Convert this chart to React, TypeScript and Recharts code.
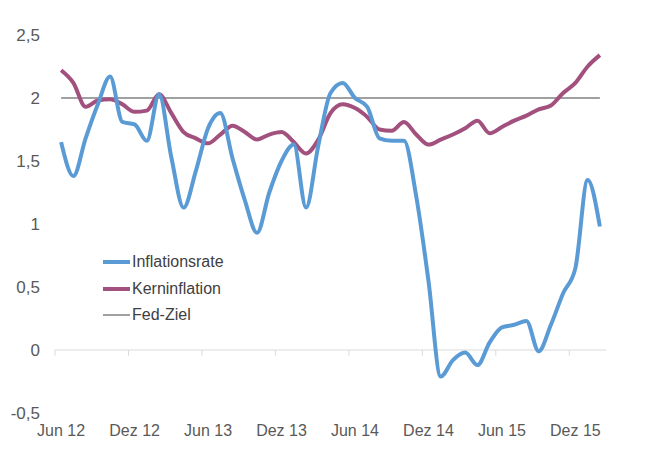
import { Line, LineChart, ReferenceLine, XAxis, YAxis } from 'recharts'

// US-Inflation vs. Kerninflation, monatlich Jun 12 – Feb 16, mit Fed-Ziel (2 %).

const months = [
  'Jun 12', 'Jul 12', 'Aug 12', 'Sep 12', 'Okt 12', 'Nov 12', 'Dez 12',
  'Jan 13', 'Feb 13', 'Mrz 13', 'Apr 13', 'Mai 13', 'Jun 13', 'Jul 13', 'Aug 13', 'Sep 13', 'Okt 13', 'Nov 13', 'Dez 13',
  'Jan 14', 'Feb 14', 'Mrz 14', 'Apr 14', 'Mai 14', 'Jun 14', 'Jul 14', 'Aug 14', 'Sep 14', 'Okt 14', 'Nov 14', 'Dez 14',
  'Jan 15', 'Feb 15', 'Mrz 15', 'Apr 15', 'Mai 15', 'Jun 15', 'Jul 15', 'Aug 15', 'Sep 15', 'Okt 15', 'Nov 15', 'Dez 15',
  'Jan 16', 'Feb 16',
]

const inflationsrate = [
  1.65, 1.38, 1.68, 1.95, 2.17, 1.81, 1.79,
  1.66, 2.03, 1.53, 1.13, 1.42, 1.76, 1.88, 1.52, 1.19, 0.93, 1.25, 1.5,
  1.63, 1.13, 1.62, 2.04, 2.12, 2.0, 1.93, 1.68, 1.66, 1.66, 1.22, 0.55,
  -0.21, -0.08, -0.02, -0.12, 0.06, 0.18, 0.2, 0.23, -0.01, 0.2, 0.45, 0.65,
  1.35, 0.98,
]

const kerninflation = [
  2.22, 2.12, 1.93, 1.98, 1.99, 1.95, 1.89,
  1.9, 2.03, 1.88, 1.73, 1.68, 1.64, 1.71, 1.78, 1.73, 1.67, 1.71, 1.73,
  1.65, 1.56, 1.67, 1.88, 1.95, 1.92, 1.85, 1.75, 1.74, 1.81, 1.71, 1.63,
  1.67, 1.71, 1.76, 1.82, 1.72, 1.77, 1.82, 1.86, 1.91, 1.94, 2.04, 2.12,
  2.25, 2.34,
]

const fedZiel = 2

const xTicks = [0, 6, 12, 18, 24, 30, 36, 42]
const yTicks = [-0.5, 0, 0.5, 1, 1.5, 2, 2.5]

const data = months.map((m, i) => ({
  i,
  month: m,
  inflation: inflationsrate[i],
  kern: kerninflation[i],
  fed: fedZiel,
}))

const BLUE = '#5b9bd5'
const PURPLE = '#a2507e'
const GRAY = '#a0a0a0'
const TEXT = '#595959'
const FONT = '"Liberation Sans", Arial, sans-serif'

const legendItems = [
  { label: 'Inflationsrate', color: BLUE, width: 4 },
  { label: 'Kerninflation', color: PURPLE, width: 4 },
  { label: 'Fed-Ziel', color: GRAY, width: 2 },
]

// legend sits inside the plot, drawn as plain html on top of the chart
function ChartLegend() {
  return (
    <div style={{ position: 'absolute', left: 103, top: 249, fontFamily: FONT, fontSize: 16, color: '#404040' }}>
      {legendItems.map((it) => (
        <div key={it.label} style={{ display: 'flex', alignItems: 'center', height: 26.5 }}>
          <span style={{ display: 'inline-block', width: 27, height: it.width, background: it.color, marginRight: 2 }} />
          <span>{it.label}</span>
        </div>
      ))}
    </div>
  )
}

export default function App() {
  const fmt = (v: number) => String(v).replace('.', ',')
  return (
    <div style={{ position: 'absolute', left: 0, top: 0, width: 650, height: 450, background: '#fff' }}>
      <LineChart
        width={650}
        height={450}
        data={data}
        margin={{ top: 35, right: 44, bottom: 7, left: 0 }}
        style={{ fontFamily: FONT }}
      >
        <XAxis
          dataKey="i"
          type="number"
          domain={[-0.5, 44.5]}
          ticks={xTicks}
          tickFormatter={(v: number) => months[v] ?? ''}
          axisLine={false}
          tickLine={false}
          tickSize={0}
          tickMargin={12}
          height={30}
          tick={{ fill: TEXT, fontSize: 16 }}
          interval={0}
        />
        <YAxis
          domain={[-0.5, 2.5]}
          ticks={yTicks}
          tickFormatter={fmt}
          axisLine={false}
          tickLine={false}
          tickSize={0}
          tickMargin={15}
          width={55}
          tick={{ fill: TEXT, fontSize: 17 }}
          interval={0}
        />
        <ReferenceLine y={0} stroke="#d9d9d9" strokeWidth={1} />
        {xTicks.map((t) => (
          <ReferenceLine
            key={t}
            segment={[{ x: t - 0.5, y: 0 }, { x: t - 0.5, y: -0.045 }]}
            stroke="#d9d9d9"
            strokeWidth={1}
          />
        ))}
        <Line dataKey="fed" stroke={GRAY} strokeWidth={2} dot={false} isAnimationActive={false} type="linear" />
        <Line dataKey="kern" stroke={PURPLE} strokeWidth={4} dot={false} isAnimationActive={false} type="monotone" />
        <Line dataKey="inflation" stroke={BLUE} strokeWidth={4} dot={false} isAnimationActive={false} type="monotone" />
      </LineChart>
      <ChartLegend />
    </div>
  )
}
